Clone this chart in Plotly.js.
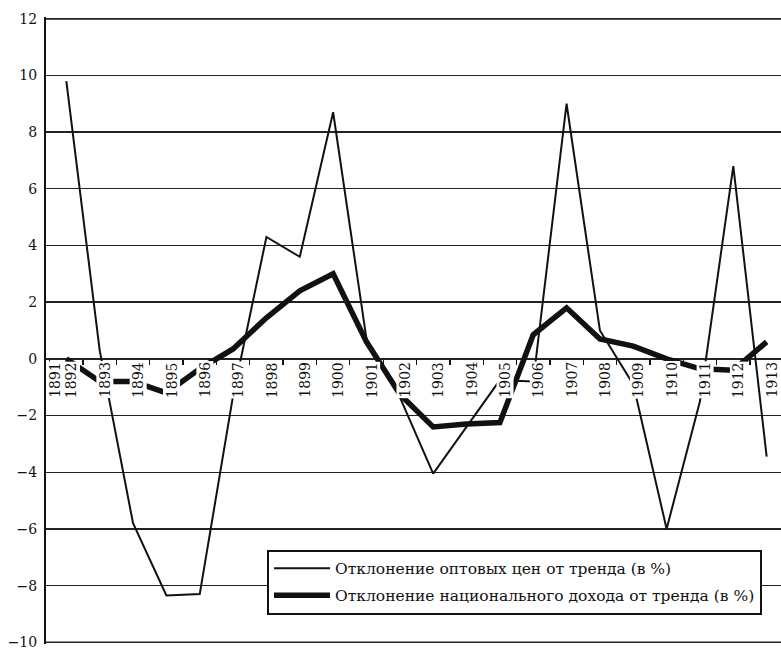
<!DOCTYPE html>
<html>
<head>
<meta charset="utf-8">
<script src="https://cdn.plot.ly/plotly-3.0.1.min.js"></script>
<style>
html,body{margin:0;padding:0;background:#fff;}
#chart{width:781px;height:649px;}
</style>
</head>
<body>
<div id="chart"></div>
<script>
// ---- data ----
const years = [1891,1892,1893,1894,1895,1896,1897,1898,1899,1900,1901,1902,1903,1904,1905,1906,1907,1908,1909,1910,1911,1912,1913];
const wholesalePriceDeviation = [null,9.8,0.3,-5.8,-8.35,-8.3,-1.3,4.3,3.6,8.7,0.7,-1.35,-4.05,-2.4,-0.75,-0.8,9.0,1.0,-0.9,-6.0,-1.5,6.8,-3.45];
const nationalIncomeDeviation = [null,0.0,-0.8,-0.8,-1.2,-0.35,0.35,1.45,2.4,3.0,0.6,-1.25,-2.4,-2.3,-2.25,0.85,1.8,0.7,0.45,0.0,-0.35,-0.4,0.6];
const seriesNames = ["Отклонение оптовых цен от тренда (в %)", "Отклонение национального дохода от тренда (в %)"];
const yTickValues = [-10,-8,-6,-4,-2,0,2,4,6,8,10,12];

// ---- styling ----
const FONT = "DejaVu Serif, Liberation Serif, serif";
const INK = "#111";
const GRID = "#222";
const xRange = [1891.39, 1913.43];
const yPad = 0.06;
const yMin = yTickValues[0], yMax = yTickValues[yTickValues.length - 1];
const yRange = [yMin - yPad, yMax + yPad];
const labelShift = 0.15;
const labelMinX = xRange[0] + 0.27;
function toPaperY(v){ return (v - yRange[0]) / (yRange[1] - yRange[0]); }

const traces = [
  {type:"scatter", mode:"lines", x:years, y:wholesalePriceDeviation, name:seriesNames[0],
   line:{color:INK, width:2}, legendgroup:"a", hoverinfo:"skip"},
  {type:"scatter", mode:"lines", x:years, y:nationalIncomeDeviation, name:seriesNames[1],
   line:{color:INK, width:5.5}, legendgroup:"b", hoverinfo:"skip"}
];

const yearAnnotations = years.map(function(yr){
  return {
    x: Math.max(yr + labelShift, labelMinX), y: 0, xref:"x", yref:"y",
    text: String(yr), showarrow:false, textangle:-90,
    xanchor:"center", yanchor:"top", yshift:-2,
    bgcolor:"#ffffff", borderpad:0,
    font:{family:FONT, size:14, color:INK}
  };
});

// frame lines at the outermost grid values (Plotly drops grid lines at the range ends)
const edgeLines = [
  {type:"line", xref:"paper", yref:"y", x0:0, x1:1, y0:yMin, y1:yMin, line:{color:GRID, width:1.4}, layer:"above"},
  {type:"line", xref:"paper", yref:"y", x0:0, x1:1, y0:yMax, y1:yMax, line:{color:GRID, width:1.4}, layer:"above"},
  {type:"line", xref:"paper", yref:"paper", x0:0, x1:1, y0:toPaperY(yMax), y1:toPaperY(yMax), line:{color:GRID, width:1.4}, layer:"above"}
];

const layout = {
  width:781, height:649,
  margin:{l:46, r:0, t:17, b:5},
  paper_bgcolor:"#fff", plot_bgcolor:"#fff",
  font:{family:FONT, size:14, color:INK},
  showlegend:true,
  xaxis:{
    range:xRange, anchor:"free", position:toPaperY(0),
    showgrid:false, zeroline:false, showline:false,
    ticks:"outside", ticklen:5, tickwidth:1.3, tickcolor:INK,
    tickvals: years.map(function(y){return y + 0.5;}),
    showticklabels:false, fixedrange:true
  },
  xaxis2:{overlaying:"x", anchor:"y", side:"top", range:xRange, showline:false,
    showgrid:false, zeroline:false, showticklabels:false, ticks:""},
  yaxis:{
    range:yRange, tickvals:yTickValues,
    ticktext:yTickValues.map(function(v){return v < 0 ? "\u2212" + Math.abs(v) : String(v);}),
    showgrid:true, gridcolor:GRID, gridwidth:1.4,
    zeroline:false, showline:true, linecolor:INK, linewidth:2,
    ticks:"", ticklabelstandoff:4, ticklabeloverflow:"allow",
    tickfont:{family:FONT, size:14, color:INK}, fixedrange:true
  },
  legend:{
    x:0.3007, y:0.1506, xanchor:"left", yanchor:"top",
    bgcolor:"#fff", bordercolor:INK, borderwidth:2,
    font:{family:FONT, size:15.5, color:INK},
    itemwidth:56, tracegroupgap:4, traceorder:"grouped"
  },
  shapes: edgeLines,
  annotations: yearAnnotations
};

Plotly.newPlot("chart", traces, layout, {displayModeBar:false, staticPlot:true});
</script>
</body>
</html>
